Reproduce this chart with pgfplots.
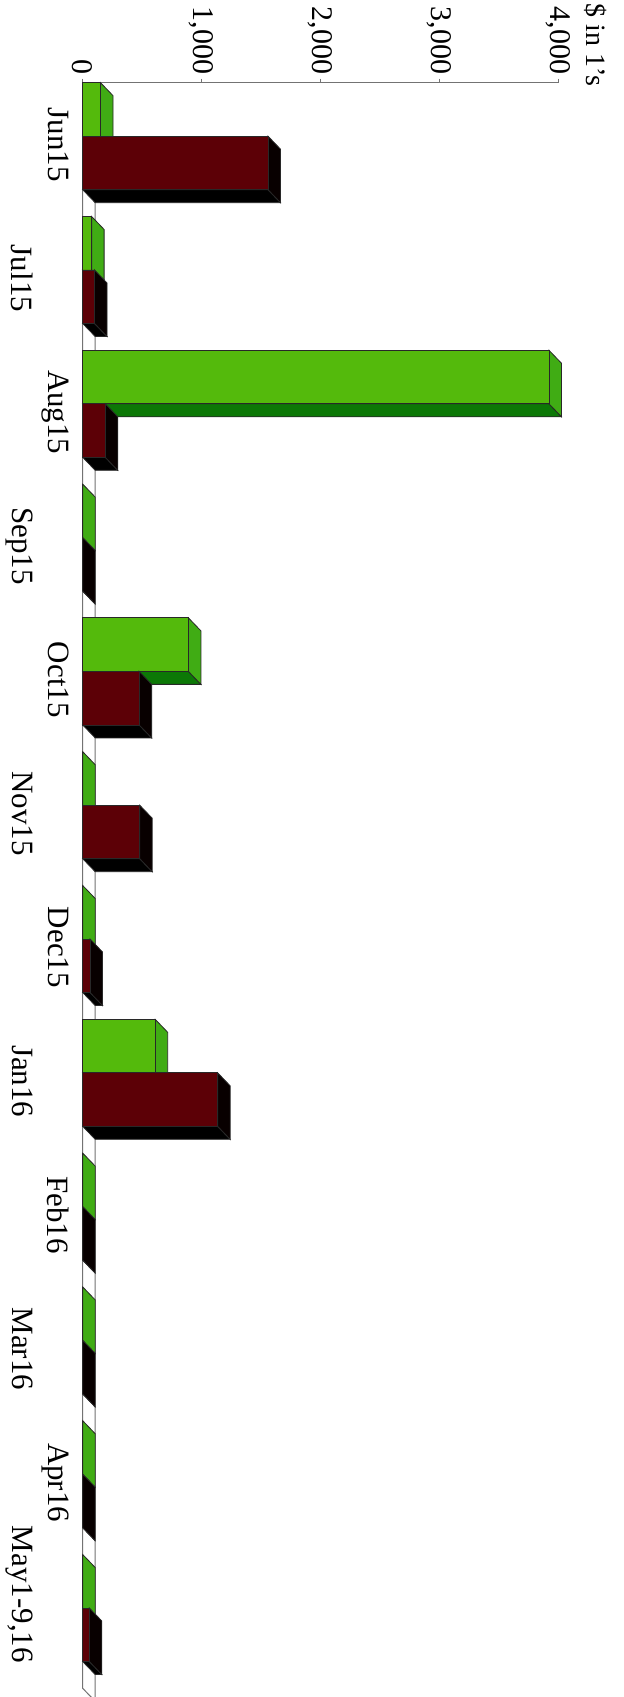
\documentclass[border=0pt]{standalone}
\usepackage{pgfplots}
\pgfplotsset{compat=1.18}
\usepackage{pgfplotstable}
\usepackage{fontspec}
\setmainfont{Liberation Serif}

\definecolor{gfront}{RGB}{84,186,12}
\definecolor{gend}{RGB}{64,172,20}
\definecolor{gbot}{RGB}{12,120,6}
\definecolor{mfront}{RGB}{92,0,6}
\definecolor{mend}{RGB}{8,0,0}
\definecolor{mbot}{RGB}{0,0,0}
\definecolor{edge}{RGB}{40,40,40}

\newlength\dx \setlength\dx{6.25pt}
\newlength\dy \setlength\dy{6.5pt}

\pgfplotstableread{
k g m
0 150 1560
1 75 100
2 3925 190
3 0 0
4 890 475
5 0 480
6 0 62
7 610 1136
8 0 0
9 0 0
10 0 0
11 0 56
}\data

\newcommand\barsides[5]{%
  \fill[#5, draw=edge, line width=0.4pt] (axis cs:0,#3) -- (axis cs:#1,#3)
     -- ([xshift=\dx,yshift=-\dy]axis cs:#1,#3) -- ([xshift=\dx,yshift=-\dy]axis cs:0,#3) -- cycle;
  \fill[#4, draw=edge, line width=0.4pt] (axis cs:#1,#2) -- ([xshift=\dx,yshift=-\dy]axis cs:#1,#2)
     -- ([xshift=\dx,yshift=-\dy]axis cs:#1,#3) -- (axis cs:#1,#3) -- cycle;
}
\newcommand\odd[1]{\raisebox{-18pt}[\height][\depth]{#1}}

\begin{document}
\begin{tikzpicture}
\begin{axis}[
  x=0.0594pt, y=66.9pt,
  xmin=0, xmax=4000, ymin=-12, ymax=0,
  enlargelimits=false, clip=false,
  axis x line=top, axis y line=left,
  x axis line style={-, draw=black!55, line width=0.5pt},
  y axis line style={draw=none},
  xtick={0,1000,2000,3000,4000},
  xticklabels={0,{1,000},{2,000},{3,000},{4,000}},
  tick align=outside, major tick length=2pt,
  xtick style={draw=black!55},
  xticklabel style={rotate=-90, anchor=east, inner sep=0pt, font=\fontsize{15}{18}\selectfont},
  xticklabel shift=2pt,
  ytick={-0.463,-1.463,-2.463,-3.463,-4.463,-5.463,-6.463,-7.463,-8.463,-9.463,-10.463,-11.463},
  yticklabels={Jun15,\odd{Jul15},Aug15,\odd{Sep15},Oct15,\odd{Nov15},Dec15,\odd{Jan16},Feb16,\odd{Mar16},Apr16,{\odd{May1-9,16\hspace*{22pt}}}},
  ytick style={draw=none},
  yticklabel style={rotate=-90, anchor=north, inner sep=0pt, font=\fontsize{15.5}{18}\selectfont},
  yticklabel shift=4.8pt,
  /pgf/number format/assume math mode=true,
  xlabel={\$ in 1's},
  xlabel style={at={(axis description cs:1.080,0.9976)}, anchor=east, rotate=-90, inner sep=0pt, font=\fontsize{14}{17}\selectfont},
]
% bounding box corners (image frame)
\coordinate (TL) at (axis cs:-696.1,0.618);
\coordinate (BR) at (axis cs:4556.4,-12.065);

% floor
\fill[white, draw=black!55, line width=0.5pt] (axis cs:0,0) -- (axis cs:0,-12)
   -- ([xshift=\dx,yshift=-\dy]axis cs:0,-12) -- ([xshift=\dx,yshift=-\dy]axis cs:0,0) -- cycle;

% green series sides
\pgfplotsforeachungrouped \kk in {0,...,11}{%
  \pgfplotstablegetelem{\kk}{g}\of\data
  \let\vv\pgfplotsretval
  \pgfmathsetmacro\ya{-\kk}%
  \pgfmathsetmacro\yb{-\kk-0.4}%
  \edef\temp{\noexpand\barsides{\vv}{\ya}{\yb}{gend}{gbot}}%
  \temp
}
\addplot[xbar, bar width=0.4, bar shift=-0.2, fill=gfront, draw=edge, line width=0.4pt]
  table[x=g, y expr=-\thisrow{k}] {\data};

% maroon series sides
\pgfplotsforeachungrouped \kk in {0,...,11}{%
  \pgfplotstablegetelem{\kk}{m}\of\data
  \let\vv\pgfplotsretval
  \pgfmathsetmacro\ya{-\kk-0.4}%
  \pgfmathsetmacro\yb{-\kk-0.8}%
  \edef\temp{\noexpand\barsides{\vv}{\ya}{\yb}{mend}{mbot}}%
  \temp
}
\addplot[xbar, bar width=0.4, bar shift=-0.6, fill=mfront, draw=edge, line width=0.4pt]
  table[x=m, y expr=-\thisrow{k}] {\data};
\end{axis}
\pgfresetboundingbox
\path[use as bounding box] (TL) rectangle (BR);
\end{tikzpicture}
\end{document}
